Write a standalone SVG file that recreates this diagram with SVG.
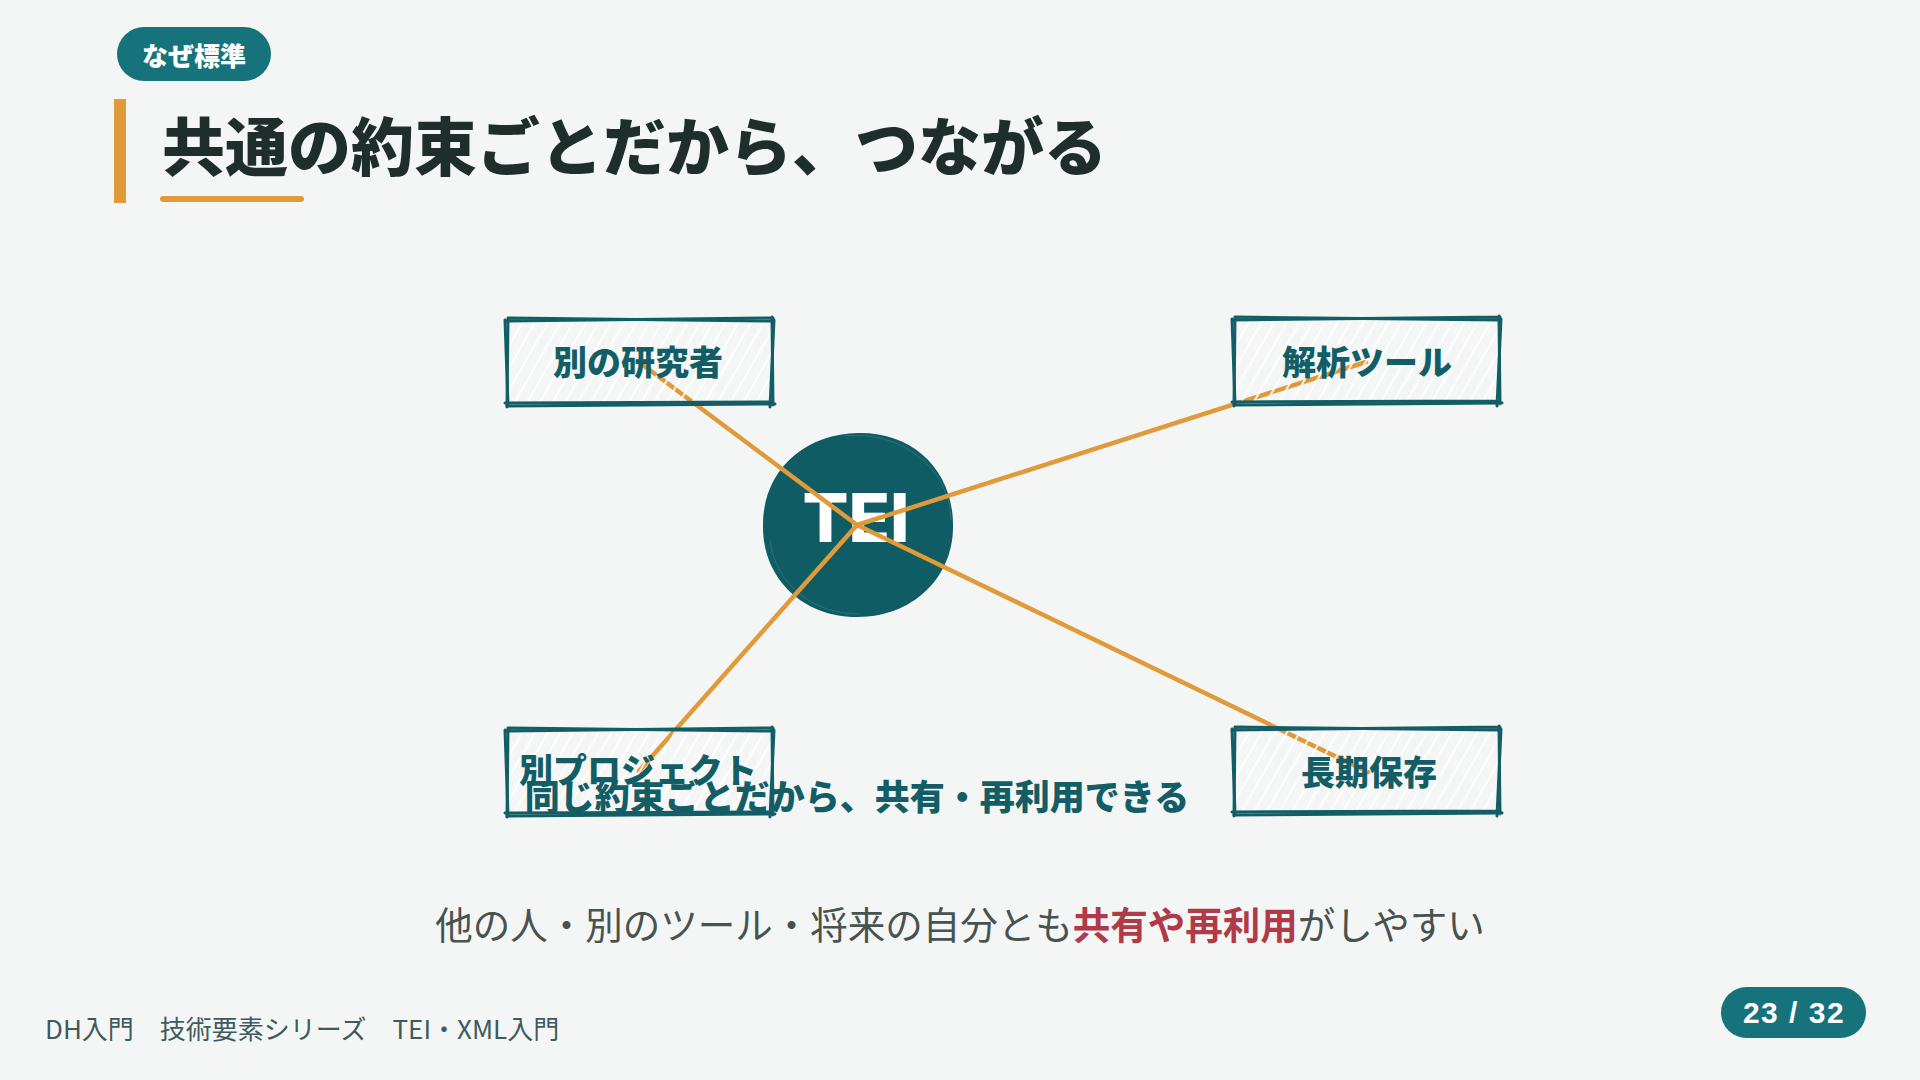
<svg xmlns="http://www.w3.org/2000/svg" xmlns:xlink="http://www.w3.org/1999/xlink" width="1920" height="1080" viewBox="0 0 1920 1080">
<defs>
<style>
.jp{font-family:"Noto Sans CJK JP","Noto Sans",sans-serif;}
.pill{fill:#16737c;}
.pilltxt{fill:#ffffff;font-weight:900;}
.title{fill:#1f2d2b;font-weight:900;font-size:63px;}
.node-stroke{fill:none;stroke:#135e66;stroke-width:3;stroke-linecap:round;stroke-linejoin:round;}
.node-txt{fill:#135e66;font-weight:900;font-size:34px;}
.edge{stroke:#e09a3a;stroke-width:4.5;stroke-linecap:round;fill:none;}
.body{fill:#48524f;font-size:37.5px;}
.em{fill:#b03a48;font-weight:700;}
.foot{fill:#3f5a5c;font-size:26px;}
</style>
<pattern id="hach" patternUnits="userSpaceOnUse" width="11" height="11" patternTransform="rotate(30)">
<line x1="5" y1="0" x2="5" y2="11" stroke="#ffffff" stroke-width="1.8" stroke-opacity="0.95"/>
</pattern>
<g id="box">
<rect x="2" y="2" width="263" height="82" fill="url(#hach)"/>
<path class="node-stroke" d="M0 2 L267 -1 M266 -2 L267 86 M269 85 L1 87 M2 86 L-1 1"/>
<path class="node-stroke" d="M3 -1 L266 2 M268 1 L264 88 M265 83 L-1 84 M1 88 L2 -1" stroke-width="2.2"/>
</g>
</defs>
<rect width="1920" height="1080" fill="#f4f6f5"/>

<g id="tag">
<rect class="pill" x="117" y="27" width="154" height="54" rx="27"/>
<text class="jp pilltxt" x="194" y="54" font-size="26" text-anchor="middle" dominant-baseline="central">なぜ標準</text>
</g>

<g id="title">
<rect x="114" y="99" width="12" height="104" fill="#e09a3a"/>
<text class="jp title" x="162" y="142" dominant-baseline="central">共通の約束ごとだから、つながる</text>
<line x1="163" y1="199" x2="301" y2="199" stroke="#e09a3a" stroke-width="6" stroke-linecap="round"/>
</g>

<g id="tei">
<path d="M858 433 C915 432 953 472 953 525 C954 578 912 617 858 617 C805 618 763 580 763 527 C762 472 803 434 858 433 Z" fill="#0f5c64"/>
<path d="M845 436 C900 430 950 468 951 520 M770 540 C775 585 815 615 860 614" fill="none" stroke="#3d8088" stroke-width="1" stroke-opacity="0.6"/>
<text x="856" y="542" font-family="Inter,'Liberation Sans',sans-serif" font-weight="800" font-size="68" fill="#ffffff" text-anchor="middle">TEI</text>
</g>

<g id="connectors">
<line class="edge" x1="857" y1="525" x2="639" y2="362"/>
<line class="edge" x1="857" y1="525" x2="1366" y2="362"/>
<line class="edge" x1="857" y1="525" x2="639" y2="771"/>
<line class="edge" x1="857" y1="525" x2="1368" y2="772"/>
</g>

<g id="node-researcher">
<use xlink:href="#box" href="#box" x="506" y="319"/>
<text class="jp node-txt" x="638" y="360" text-anchor="middle" dominant-baseline="central">別の研究者</text>
</g>

<g id="node-tool">
<use xlink:href="#box" href="#box" x="1233" y="318"/>
<text class="jp node-txt" x="1367" y="360" text-anchor="middle" dominant-baseline="central">解析ツール</text>
</g>

<g id="node-project">
<use xlink:href="#box" href="#box" x="506" y="729"/>
<text class="jp node-txt" x="638" y="768" text-anchor="middle" dominant-baseline="central">別プロジェクト</text>
</g>

<g id="node-archive">
<use xlink:href="#box" href="#box" x="1233" y="728"/>
<text class="jp node-txt" x="1369" y="770" text-anchor="middle" dominant-baseline="central">長期保存</text>
</g>

<g id="caption">
<text class="jp node-txt" x="857" y="794" font-size="35" style="font-size:35px" text-anchor="middle" dominant-baseline="central">同じ約束ごとだから、共有・再利用できる</text>
</g>

<g id="summary">
<text class="jp body" x="960" y="922" text-anchor="middle" dominant-baseline="central">他の人・別のツール・将来の自分とも<tspan class="em">共有や再利用</tspan>がしやすい</text>
</g>

<g id="footer">
<text class="jp foot" x="45" y="1027" dominant-baseline="central">DH入門　技術要素シリーズ　TEI・XML入門</text>
</g>

<g id="page">
<rect class="pill" x="1721" y="987" width="145" height="51" rx="25.5"/>
<text x="1794" y="1023" font-family="'Liberation Sans',Arial,sans-serif" font-weight="700" font-size="30" letter-spacing="1.5" fill="#ffffff" text-anchor="middle">23 / 32</text>
</g>
</svg>
